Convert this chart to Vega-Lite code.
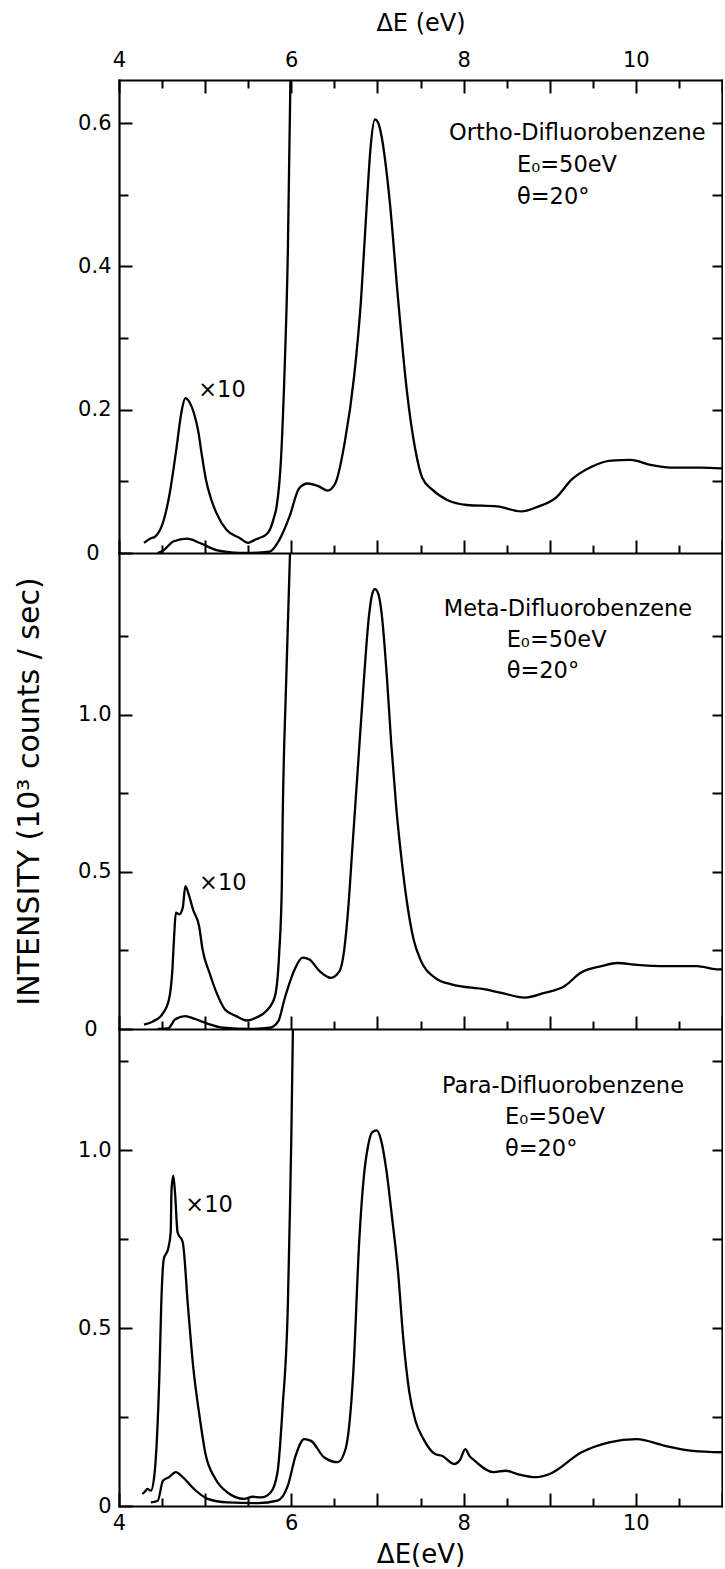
{
  "$schema": "https://vega.github.io/schema/vega-lite/v6.json",
  "background": "white",
  "padding": {"left": 14, "top": 11, "right": 0, "bottom": 0},
  "bounds": "flush",
  "spacing": 0,
  "config": {
    "font": "DejaVu Sans",
    "view": {"stroke": null},
    "axis": {
      "grid": false,
      "domainColor": "black",
      "domainWidth": 2.2,
      "domainCap": "square",
      "tickColor": "black",
      "tickWidth": 2,
      "labelColor": "black",
      "labelFont": "DejaVu Sans",
      "labelFontSize": 21,
      "labelFlush": false,
      "labelOverlap": false,
      "titleColor": "black",
      "titleFont": "DejaVu Sans",
      "titleFontWeight": "normal"
    }
  },
  "datasets": {
    "ortho_main": [
      {"eV": 4.45, "I": 0.0}, {"eV": 4.52, "I": 0.004}, {"eV": 4.63, "I": 0.016}, {"eV": 4.79, "I": 0.02},
      {"eV": 4.94, "I": 0.014}, {"eV": 5.13, "I": 0.004}, {"eV": 5.3, "I": 0.001}, {"eV": 5.48, "I": 0.0},
      {"eV": 5.75, "I": 0.002}, {"eV": 5.86, "I": 0.018}, {"eV": 5.98, "I": 0.051}, {"eV": 6.09, "I": 0.09},
      {"eV": 6.19, "I": 0.097}, {"eV": 6.32, "I": 0.093}, {"eV": 6.42, "I": 0.087}, {"eV": 6.51, "I": 0.097},
      {"eV": 6.62, "I": 0.154}, {"eV": 6.73, "I": 0.247}, {"eV": 6.81, "I": 0.354}, {"eV": 6.88, "I": 0.494},
      {"eV": 6.92, "I": 0.565}, {"eV": 6.97, "I": 0.605}, {"eV": 7.01, "I": 0.6}, {"eV": 7.05, "I": 0.58},
      {"eV": 7.14, "I": 0.494}, {"eV": 7.24, "I": 0.354}, {"eV": 7.34, "I": 0.228}, {"eV": 7.44, "I": 0.144},
      {"eV": 7.52, "I": 0.105}, {"eV": 7.64, "I": 0.088}, {"eV": 7.81, "I": 0.074}, {"eV": 8.04, "I": 0.067},
      {"eV": 8.39, "I": 0.065}, {"eV": 8.67, "I": 0.058}, {"eV": 8.85, "I": 0.064}, {"eV": 9.08, "I": 0.078},
      {"eV": 9.25, "I": 0.102}, {"eV": 9.48, "I": 0.12}, {"eV": 9.71, "I": 0.129}, {"eV": 9.94, "I": 0.13},
      {"eV": 10.17, "I": 0.123}, {"eV": 10.46, "I": 0.119}, {"eV": 10.75, "I": 0.119}, {"eV": 11.0, "I": 0.118}
    ],
    "ortho_x10": [
      {"eV": 4.29, "I": 0.014}, {"eV": 4.36, "I": 0.02}, {"eV": 4.42, "I": 0.023}, {"eV": 4.52, "I": 0.046},
      {"eV": 4.59, "I": 0.084}, {"eV": 4.66, "I": 0.14}, {"eV": 4.73, "I": 0.2}, {"eV": 4.77, "I": 0.216},
      {"eV": 4.82, "I": 0.21}, {"eV": 4.87, "I": 0.195}, {"eV": 4.92, "I": 0.17}, {"eV": 4.96, "I": 0.138},
      {"eV": 5.01, "I": 0.102}, {"eV": 5.07, "I": 0.075}, {"eV": 5.13, "I": 0.056}, {"eV": 5.25, "I": 0.032},
      {"eV": 5.4, "I": 0.021}, {"eV": 5.5, "I": 0.014}, {"eV": 5.57, "I": 0.018}, {"eV": 5.63, "I": 0.021},
      {"eV": 5.7, "I": 0.025}, {"eV": 5.75, "I": 0.032}, {"eV": 5.8, "I": 0.05}, {"eV": 5.83, "I": 0.065},
      {"eV": 5.88, "I": 0.13}, {"eV": 5.92, "I": 0.247}, {"eV": 5.96, "I": 0.42}, {"eV": 5.99, "I": 0.66},
      {"eV": 6.01, "I": 0.75}
    ],
    "meta_main": [
      {"eV": 4.45, "I": 0.0}, {"eV": 4.57, "I": 0.002}, {"eV": 4.65, "I": 0.03}, {"eV": 4.77, "I": 0.041},
      {"eV": 4.88, "I": 0.032}, {"eV": 5.02, "I": 0.018}, {"eV": 5.21, "I": 0.004}, {"eV": 5.52, "I": 0.0},
      {"eV": 5.75, "I": 0.004}, {"eV": 5.85, "I": 0.025}, {"eV": 5.92, "I": 0.094}, {"eV": 6.04, "I": 0.19},
      {"eV": 6.13, "I": 0.227}, {"eV": 6.21, "I": 0.221}, {"eV": 6.33, "I": 0.184}, {"eV": 6.46, "I": 0.163},
      {"eV": 6.56, "I": 0.184}, {"eV": 6.61, "I": 0.243}, {"eV": 6.66, "I": 0.38}, {"eV": 6.71, "I": 0.58},
      {"eV": 6.77, "I": 0.82}, {"eV": 6.84, "I": 1.1}, {"eV": 6.9, "I": 1.31}, {"eV": 6.94, "I": 1.385},
      {"eV": 6.97, "I": 1.4}, {"eV": 7.01, "I": 1.385}, {"eV": 7.05, "I": 1.32}, {"eV": 7.11, "I": 1.12},
      {"eV": 7.16, "I": 0.91}, {"eV": 7.22, "I": 0.7}, {"eV": 7.28, "I": 0.54}, {"eV": 7.35, "I": 0.39},
      {"eV": 7.42, "I": 0.285}, {"eV": 7.5, "I": 0.22}, {"eV": 7.67, "I": 0.163}, {"eV": 7.86, "I": 0.142},
      {"eV": 8.25, "I": 0.126}, {"eV": 8.44, "I": 0.115}, {"eV": 8.71, "I": 0.1}, {"eV": 8.94, "I": 0.115},
      {"eV": 9.17, "I": 0.136}, {"eV": 9.36, "I": 0.179}, {"eV": 9.6, "I": 0.2}, {"eV": 9.79, "I": 0.21},
      {"eV": 9.98, "I": 0.205}, {"eV": 10.37, "I": 0.2}, {"eV": 10.71, "I": 0.2}, {"eV": 10.94, "I": 0.19},
      {"eV": 11.0, "I": 0.19}
    ],
    "meta_x10": [
      {"eV": 4.29, "I": 0.014}, {"eV": 4.4, "I": 0.025}, {"eV": 4.5, "I": 0.046}, {"eV": 4.58, "I": 0.094},
      {"eV": 4.62, "I": 0.19}, {"eV": 4.64, "I": 0.296}, {"eV": 4.66, "I": 0.37}, {"eV": 4.7, "I": 0.365},
      {"eV": 4.74, "I": 0.386}, {"eV": 4.77, "I": 0.455}, {"eV": 4.81, "I": 0.428}, {"eV": 4.86, "I": 0.38},
      {"eV": 4.93, "I": 0.327}, {"eV": 4.97, "I": 0.253}, {"eV": 5.05, "I": 0.179}, {"eV": 5.15, "I": 0.104},
      {"eV": 5.23, "I": 0.062}, {"eV": 5.36, "I": 0.041}, {"eV": 5.48, "I": 0.027}, {"eV": 5.59, "I": 0.036},
      {"eV": 5.71, "I": 0.057}, {"eV": 5.81, "I": 0.104}, {"eV": 5.86, "I": 0.243}, {"eV": 5.89, "I": 0.455},
      {"eV": 5.9, "I": 0.667}, {"eV": 5.94, "I": 1.1}, {"eV": 5.99, "I": 1.56}
    ],
    "para_main": [
      {"eV": 4.37, "I": 0.01}, {"eV": 4.45, "I": 0.015}, {"eV": 4.51, "I": 0.071}, {"eV": 4.58, "I": 0.081},
      {"eV": 4.66, "I": 0.095}, {"eV": 4.74, "I": 0.081}, {"eV": 4.87, "I": 0.048}, {"eV": 5.03, "I": 0.02},
      {"eV": 5.26, "I": 0.01}, {"eV": 5.61, "I": 0.008}, {"eV": 5.84, "I": 0.015}, {"eV": 5.96, "I": 0.057},
      {"eV": 6.05, "I": 0.141}, {"eV": 6.15, "I": 0.188}, {"eV": 6.23, "I": 0.183}, {"eV": 6.38, "I": 0.137},
      {"eV": 6.54, "I": 0.123}, {"eV": 6.63, "I": 0.16}, {"eV": 6.72, "I": 0.376}, {"eV": 6.79, "I": 0.75},
      {"eV": 6.84, "I": 0.92}, {"eV": 6.89, "I": 1.01}, {"eV": 6.94, "I": 1.05}, {"eV": 6.99, "I": 1.055},
      {"eV": 7.04, "I": 1.03}, {"eV": 7.1, "I": 0.95}, {"eV": 7.17, "I": 0.81}, {"eV": 7.24, "I": 0.656},
      {"eV": 7.3, "I": 0.47}, {"eV": 7.37, "I": 0.32}, {"eV": 7.44, "I": 0.24}, {"eV": 7.53, "I": 0.19},
      {"eV": 7.67, "I": 0.146}, {"eV": 7.75, "I": 0.141}, {"eV": 7.89, "I": 0.118}, {"eV": 7.96, "I": 0.13},
      {"eV": 8.02, "I": 0.16}, {"eV": 8.07, "I": 0.14}, {"eV": 8.13, "I": 0.127}, {"eV": 8.35, "I": 0.095},
      {"eV": 8.49, "I": 0.099}, {"eV": 8.62, "I": 0.09}, {"eV": 8.84, "I": 0.081}, {"eV": 9.0, "I": 0.09},
      {"eV": 9.37, "I": 0.151}, {"eV": 9.69, "I": 0.179}, {"eV": 10.01, "I": 0.188}, {"eV": 10.34, "I": 0.169},
      {"eV": 10.66, "I": 0.155}, {"eV": 11.0, "I": 0.151}
    ],
    "para_x10": [
      {"eV": 4.27, "I": 0.034}, {"eV": 4.3, "I": 0.04}, {"eV": 4.33, "I": 0.048}, {"eV": 4.37, "I": 0.043},
      {"eV": 4.41, "I": 0.085}, {"eV": 4.44, "I": 0.188}, {"eV": 4.47, "I": 0.376}, {"eV": 4.49, "I": 0.563},
      {"eV": 4.52, "I": 0.694}, {"eV": 4.57, "I": 0.722}, {"eV": 4.6, "I": 0.769}, {"eV": 4.61, "I": 0.89},
      {"eV": 4.63, "I": 0.928}, {"eV": 4.65, "I": 0.881}, {"eV": 4.68, "I": 0.769}, {"eV": 4.74, "I": 0.741},
      {"eV": 4.8, "I": 0.563}, {"eV": 4.86, "I": 0.394}, {"eV": 4.94, "I": 0.244}, {"eV": 5.0, "I": 0.151},
      {"eV": 5.12, "I": 0.076}, {"eV": 5.26, "I": 0.038}, {"eV": 5.45, "I": 0.02}, {"eV": 5.55, "I": 0.026},
      {"eV": 5.65, "I": 0.024}, {"eV": 5.76, "I": 0.038}, {"eV": 5.84, "I": 0.095}, {"eV": 5.9, "I": 0.28},
      {"eV": 5.96, "I": 0.563}, {"eV": 5.985, "I": 0.84}, {"eV": 6.0, "I": 1.03}, {"eV": 6.02, "I": 1.36}
    ],
    "notes": [
      {"panel": "ortho", "eV": 7.83, "I": 0.586, "label": "Ortho-Difluorobenzene"},
      {"panel": "ortho", "eV": 8.62, "I": 0.541, "label": "E₀=50eV"},
      {"panel": "ortho", "eV": 8.62, "I": 0.497, "label": "θ=20°"},
      {"panel": "ortho", "eV": 4.92, "I": 0.227, "label": "×10"},
      {"panel": "meta", "eV": 7.77, "I": 1.337, "label": "Meta-Difluorobenzene"},
      {"panel": "meta", "eV": 8.5, "I": 1.238, "label": "E₀=50eV"},
      {"panel": "meta", "eV": 8.5, "I": 1.139, "label": "θ=20°"},
      {"panel": "meta", "eV": 4.93, "I": 0.465, "label": "×10"},
      {"panel": "para", "eV": 7.75, "I": 1.18, "label": "Para-Difluorobenzene"},
      {"panel": "para", "eV": 8.48, "I": 1.093, "label": "E₀=50eV"},
      {"panel": "para", "eV": 8.48, "I": 1.003, "label": "θ=20°"},
      {"panel": "para", "eV": 4.77, "I": 0.846, "label": "×10"}
    ]
  },
  "vconcat": [
    {
      "width": 603,
      "height": 473,
      "layer": [
        {
          "data": {"name": "ortho_main"},
          "mark": {"type": "line", "clip": true, "color": "black", "strokeWidth": 2.3, "interpolate": "monotone"},
          "encoding": {
            "x": {"field": "eV", "type": "quantitative", "scale": {"domain": [4, 11], "nice": false, "zero": false},
              "axis": {"orient": "bottom", "values": [4, 4.5, 5, 5.5, 6, 6.5, 7, 7.5, 8, 8.5, 9, 9.5, 10, 10.5, 11], "labels": false, "title": null,
                "tickSize": {"condition": {"test": "datum.value % 1 == 0", "value": -13}, "value": -8}}},
            "y": {"field": "I", "type": "quantitative", "scale": {"domain": [0, 0.66], "nice": false},
              "axis": {"orient": "left", "values": [0, 0.1, 0.2, 0.3, 0.4, 0.5, 0.6], "title": null,
                "tickSize": {"condition": {"test": "round(datum.value * 10) % 2 == 0", "value": -13}, "value": -9},
                "labelPadding": {"condition": {"test": "datum.value == 0", "value": 33}, "value": 21},
                "labelExpr": "datum.value == 0 ? '0' : (round(datum.value * 10) % 2 == 0 ? format(datum.value, '.1f') : '')"}}
          }
        },
        {
          "data": {"name": "ortho_x10"},
          "mark": {"type": "line", "clip": true, "color": "black", "strokeWidth": 2.3, "interpolate": "monotone"},
          "encoding": {
            "x": {"field": "eV", "type": "quantitative", "scale": {"domain": [4, 11], "nice": false, "zero": false},
              "axis": {"orient": "top", "values": [4, 4.5, 5, 5.5, 6, 6.5, 7, 7.5, 8, 8.5, 9, 9.5, 10, 10.5, 11],
                "tickSize": {"condition": {"test": "datum.value % 1 == 0", "value": -13}, "value": -8},
                "labelPadding": 23,
                "labelExpr": "datum.value % 2 == 0 && datum.value < 11 ? format(datum.value, 'd') : ''",
                "title": "ΔE (eV)", "titleFontSize": 24, "titlePadding": 9}},
            "y": {"field": "I", "type": "quantitative", "scale": {"domain": [0, 0.66], "nice": false},
              "axis": {"orient": "right", "values": [0.1, 0.2, 0.3, 0.4, 0.5, 0.6], "labels": false, "title": null, "tickSize": -10}}
          }
        },
        {
          "data": {"name": "notes"},
          "transform": [{"filter": "datum.panel == 'ortho'"}],
          "mark": {"type": "text", "align": "left", "baseline": "middle", "fontSize": 22.5, "color": "black"},
          "encoding": {
            "x": {"field": "eV", "type": "quantitative", "scale": {"domain": [4, 11], "nice": false, "zero": false}, "axis": null},
            "y": {"field": "I", "type": "quantitative", "scale": {"domain": [0, 0.66], "nice": false}, "axis": null},
            "text": {"field": "label"}
          }
        }
      ],
      "resolve": {"axis": {"x": "independent", "y": "independent"}}
    },
    {
      "width": 603,
      "height": 476,
      "layer": [
        {
          "data": {"name": "meta_main"},
          "mark": {"type": "line", "clip": true, "color": "black", "strokeWidth": 2.3, "interpolate": "monotone"},
          "encoding": {
            "x": {"field": "eV", "type": "quantitative", "scale": {"domain": [4, 11], "nice": false, "zero": false},
              "axis": {"orient": "bottom", "values": [4, 4.5, 5, 5.5, 6, 6.5, 7, 7.5, 8, 8.5, 9, 9.5, 10, 10.5, 11], "labels": false, "title": null,
                "tickSize": {"condition": {"test": "datum.value % 1 == 0", "value": -13}, "value": -8}}},
            "y": {"field": "I", "type": "quantitative", "scale": {"domain": [0, 1.515], "nice": false},
              "axis": {"orient": "left", "values": [0, 0.25, 0.5, 0.75, 1, 1.25],
                "tickSize": {"condition": {"test": "datum.value % 0.5 == 0", "value": -13}, "value": -9},
                "labelPadding": {"condition": {"test": "datum.value == 0", "value": 35}, "value": 21},
                "labelExpr": "datum.value == 0 ? '0' : (datum.value % 0.5 == 0 ? format(datum.value, '.1f') : '')",
                "title": "INTENSITY   (10³ counts / sec)", "titleFontSize": 30, "titlePadding": 33}}
          }
        },
        {
          "data": {"name": "meta_x10"},
          "mark": {"type": "line", "clip": true, "color": "black", "strokeWidth": 2.3, "interpolate": "monotone"},
          "encoding": {
            "x": {"field": "eV", "type": "quantitative", "scale": {"domain": [4, 11], "nice": false, "zero": false}, "axis": null},
            "y": {"field": "I", "type": "quantitative", "scale": {"domain": [0, 1.515], "nice": false},
              "axis": {"orient": "right", "values": [0.25, 0.5, 0.75, 1, 1.25], "labels": false, "title": null, "tickSize": -10}}
          }
        },
        {
          "data": {"name": "notes"},
          "transform": [{"filter": "datum.panel == 'meta'"}],
          "mark": {"type": "text", "align": "left", "baseline": "middle", "fontSize": 22.5, "color": "black"},
          "encoding": {
            "x": {"field": "eV", "type": "quantitative", "scale": {"domain": [4, 11], "nice": false, "zero": false}, "axis": null},
            "y": {"field": "I", "type": "quantitative", "scale": {"domain": [0, 1.515], "nice": false}, "axis": null},
            "text": {"field": "label"}
          }
        }
      ],
      "resolve": {"axis": {"x": "independent", "y": "independent"}}
    },
    {
      "width": 603,
      "height": 477,
      "layer": [
        {
          "data": {"name": "para_main"},
          "mark": {"type": "line", "clip": true, "color": "black", "strokeWidth": 2.3, "interpolate": "monotone"},
          "encoding": {
            "x": {"field": "eV", "type": "quantitative", "scale": {"domain": [4, 11], "nice": false, "zero": false},
              "axis": {"orient": "bottom", "values": [4, 4.5, 5, 5.5, 6, 6.5, 7, 7.5, 8, 8.5, 9, 9.5, 10, 10.5, 11],
                "tickSize": {"condition": {"test": "datum.value % 1 == 0", "value": -13}, "value": -8},
                "labelPadding": 19,
                "labelExpr": "datum.value % 2 == 0 && datum.value < 11 ? format(datum.value, 'd') : ''",
                "title": "ΔE(eV)", "titleFontSize": 26, "titlePadding": 3}},
            "y": {"field": "I", "type": "quantitative", "scale": {"domain": [0, 1.34], "nice": false},
              "axis": {"orient": "left", "values": [0, 0.25, 0.5, 0.75, 1, 1.25], "title": null,
                "tickSize": {"condition": {"test": "datum.value % 0.5 == 0", "value": -13}, "value": -9},
                "labelPadding": 21,
                "labelExpr": "datum.value == 0 ? '0' : (datum.value % 0.5 == 0 ? format(datum.value, '.1f') : '')"}}
          }
        },
        {
          "data": {"name": "para_x10"},
          "mark": {"type": "line", "clip": true, "color": "black", "strokeWidth": 2.3, "interpolate": "monotone"},
          "encoding": {
            "x": {"field": "eV", "type": "quantitative", "scale": {"domain": [4, 11], "nice": false, "zero": false}, "axis": null},
            "y": {"field": "I", "type": "quantitative", "scale": {"domain": [0, 1.34], "nice": false},
              "axis": {"orient": "right", "values": [0.25, 0.5, 0.75, 1, 1.25], "labels": false, "title": null, "tickSize": -10}}
          }
        },
        {
          "data": {"name": "notes"},
          "transform": [{"filter": "datum.panel == 'para'"}],
          "mark": {"type": "text", "align": "left", "baseline": "middle", "fontSize": 22.5, "color": "black"},
          "encoding": {
            "x": {"field": "eV", "type": "quantitative", "scale": {"domain": [4, 11], "nice": false, "zero": false}, "axis": null},
            "y": {"field": "I", "type": "quantitative", "scale": {"domain": [0, 1.34], "nice": false}, "axis": null},
            "text": {"field": "label"}
          }
        }
      ],
      "resolve": {"axis": {"x": "independent", "y": "independent"}}
    }
  ]
}
